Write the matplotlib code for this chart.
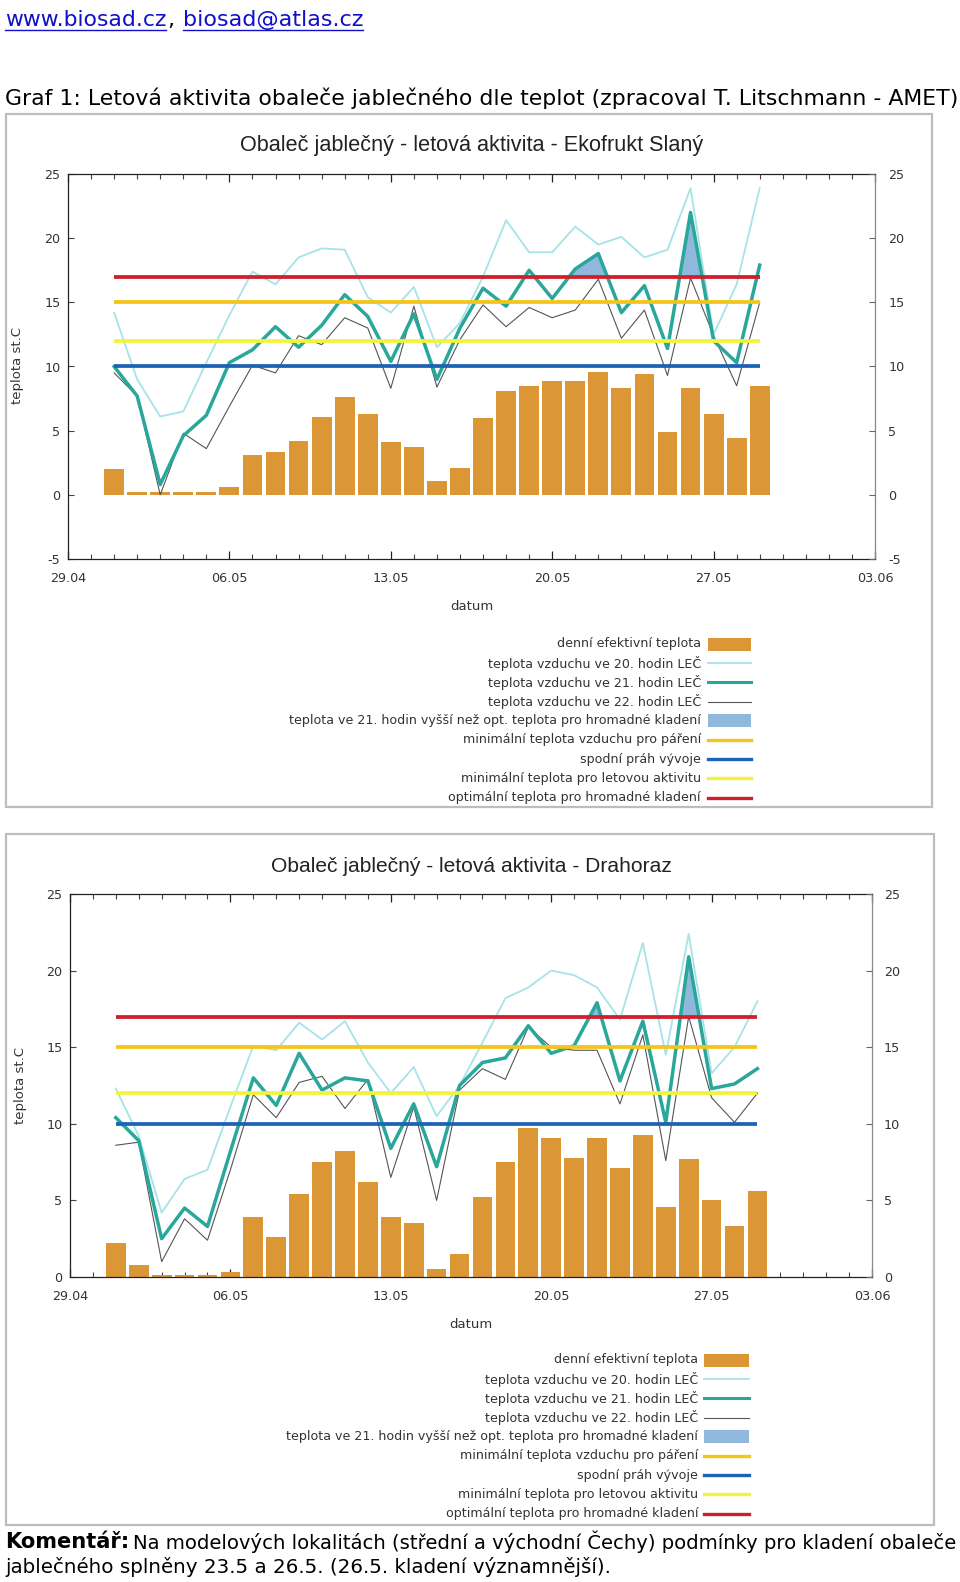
import matplotlib
matplotlib.use('Agg')
import matplotlib.pyplot as plt
import matplotlib.dates as mdates
from matplotlib.patches import Rectangle
from matplotlib.lines import Line2D
import numpy as np
import pandas as pd

plt.rcParams['axes.unicode_minus'] = False

# ---------------- data ----------------
dates = pd.date_range('2013-05-01', '2013-05-29', freq='D')
tick_dates = pd.to_datetime(['2013-04-29', '2013-05-06', '2013-05-13', '2013-05-20', '2013-05-27', '2013-06-03'])
tick_labels = ['29.04', '06.05', '13.05', '20.05', '27.05', '03.06']

# Ekofrukt Slaný
eff1 = [2.0, 0.2, 0.2, 0.2, 0.2, 0.6, 3.1, 3.3, 4.2, 6.1, 7.6, 6.3, 4.1, 3.7, 1.1, 2.1,
        6.0, 8.1, 8.5, 8.9, 8.9, 9.6, 8.3, 9.4, 4.9, 8.3, 6.3, 4.4, 8.5]
t20_1 = [14.2, 9.0, 6.1, 6.5, 10.3, 14.0, 17.4, 16.4, 18.5, 19.2, 19.1, 15.4, 14.2, 16.2, 11.5, 13.4,
         17.0, 21.4, 18.9, 18.9, 20.9, 19.5, 20.1, 18.5, 19.1, 23.9, 12.5, 16.4, 23.9]
t21_1 = [10.0, 7.7, 0.8, 4.6, 6.2, 10.3, 11.3, 13.1, 11.5, 13.2, 15.6, 13.9, 10.4, 14.1, 9.0, 13.0,
         16.1, 14.7, 17.5, 15.3, 17.6, 18.8, 14.2, 16.3, 11.4, 22.0, 12.0, 10.3, 17.9]
t22_1 = [9.5, 7.7, 0.0, 4.8, 3.6, 6.9, 10.1, 9.5, 12.4, 11.7, 13.8, 13.0, 8.3, 14.7, 8.4, 12.1,
         14.8, 13.1, 14.6, 13.8, 14.4, 16.8, 12.2, 14.4, 9.3, 16.9, 12.4, 8.5, 15.0]
flag1 = pd.to_datetime(['2013-05-21', '2013-05-22', '2013-05-26'])

# Drahoraz
eff2 = [2.2, 0.8, 0.1, 0.1, 0.1, 0.3, 3.9, 2.6, 5.4, 7.5, 8.2, 6.2, 3.9, 3.5, 0.5, 1.5,
        5.2, 7.5, 9.7, 9.1, 7.8, 9.1, 7.1, 9.3, 4.6, 7.7, 5.0, 3.3, 5.6]
t20_2 = [12.3, 9.2, 4.2, 6.4, 7.0, 11.1, 15.1, 14.8, 16.6, 15.5, 16.7, 14.0, 12.0, 13.7, 10.5, 12.5,
         15.3, 18.2, 18.9, 20.0, 19.7, 18.9, 16.8, 21.8, 14.5, 22.4, 13.3, 15.0, 18.0]
t21_2 = [10.4, 8.9, 2.5, 4.5, 3.3, 8.2, 13.0, 11.2, 14.6, 12.2, 13.0, 12.8, 8.4, 11.3, 7.2, 12.5,
         14.0, 14.3, 16.4, 14.6, 15.1, 17.9, 12.8, 16.7, 10.1, 20.9, 12.3, 12.6, 13.6]
t22_2 = [8.6, 8.8, 1.0, 3.8, 2.4, 7.0, 11.9, 10.4, 12.7, 13.1, 11.0, 12.9, 6.5, 11.1, 5.0, 12.2,
         13.6, 12.9, 16.3, 15.0, 14.8, 14.8, 11.3, 15.8, 7.6, 17.0, 11.7, 10.1, 12.0]
flag2 = pd.to_datetime(['2013-05-22', '2013-05-26'])

# thresholds
opt_lay = 17      # optimální teplota pro hromadné kladení
min_mate = 15     # minimální teplota vzduchu pro páření
min_flight = 12   # minimální teplota pro letovou aktivitu
dev_thr = 10      # spodní práh vývoje

legend_labels = ['denní efektivní teplota', 'teplota vzduchu ve 20. hodin LEČ',
                 'teplota vzduchu ve 21. hodin LEČ', 'teplota vzduchu ve 22. hodin LEČ',
                 'teplota ve 21. hodin vyšší než opt. teplota pro hromadné kladení',
                 'minimální teplota vzduchu pro páření', 'spodní práh vývoje',
                 'minimální teplota pro letovou aktivitu', 'optimální teplota pro hromadné kladení']

# ---------------- style ----------------
C_BAR = '#DB9636'
C_20 = '#A6E3E9'
C_21 = '#2AA79B'
C_22 = '#555555'
C_FILL = '#8FB8DC'
C_RED = '#CF1F2B'
C_ORANGE = '#F4C419'
C_YEL = '#F3F33A'
C_BLUE = '#1C62B5'

W, H = 960, 1582
fig = plt.figure(figsize=(W / 100, H / 100), dpi=100)
fig.patch.set_facecolor('white')
renderer = fig.canvas.get_renderer()


def fx(px):
    return px / W


def fy(py):
    return 1 - py / H


def fit_text(x, y, s, target_w, size0=12, **kw):
    t = fig.text(fx(x), fy(y), s, fontsize=size0, **kw)
    w = t.get_window_extent(renderer).width
    t.set_fontsize(size0 * target_w / w)
    return t


def fit_size(s, target_w, family='DejaVu Sans', size0=10):
    t = fig.text(0, 0, s, fontsize=size0, family=family)
    w = t.get_window_extent(renderer).width
    t.remove()
    return size0 * target_w / w


# ---------------- header ----------------
LINK = '#1010CC'
t1 = fit_text(5, 20, 'www.biosad.cz', 161, color=LINK, va='center', ha='left', family='DejaVu Sans')
fig.text(fx(167), fy(20), ',', color='black', va='center', ha='left', fontsize=t1.get_fontsize(), family='DejaVu Sans')
t2 = fit_text(183, 20, 'biosad@atlas.cz', 180, color=LINK, va='center', ha='left', family='DejaVu Sans')
for x0, x1 in [(5, 166), (183, 363)]:
    fig.add_artist(Line2D([fx(x0), fx(x1)], [fy(30), fy(30)], transform=fig.transFigure, color=LINK, lw=1.0))

fit_text(5, 98, 'Graf 1: Letová aktivita obaleče jablečného dle teplot (zpracoval T. Litschmann - AMET)',
         945, va='center', ha='left', family='DejaVu Sans', color='black')

# ---------------- panels ----------------
for (x0, y0, x1, y1) in [(6, 114, 932, 807), (6, 834, 934, 1525)]:
    fig.add_artist(Rectangle((fx(x0), fy(y1)), fx(x1 - x0), (y1 - y0) / H, transform=fig.transFigure,
                             fill=False, edgecolor='#BDBDBD', lw=1.6))

leg_size = fit_size(legend_labels[4], 410)


def draw_chart(box, ylim, eff, t20, t21, t22, flags, title, title_y, title_w, datum_y, ylab_xy,
               leg_y0, leg_xr, leg_h0, leg_h1, tick_pad_r):
    left, top, right, bottom = box
    ax = fig.add_axes([fx(left), fy(bottom), fx(right - left), (bottom - top) / H])
    x = mdates.date2num(dates)
    ax.bar(x, eff, width=0.86, color=C_BAR, zorder=2)
    ax.plot(x, t20, color=C_20, lw=1.3, zorder=3)
    ax.plot(x, t22, color=C_22, lw=0.8, zorder=3)
    # fill where 21h temperature is above optimum (flagged days)
    xd = np.linspace(x[0], x[-1], 4000)
    td = np.interp(xd, x, t21)
    fnum = mdates.date2num(flags)
    near = np.min(np.abs(xd[:, None] - fnum[None, :]), axis=1) < 1.0
    ax.fill_between(xd, td, opt_lay, where=(td > opt_lay) & near, color=C_FILL, lw=0, zorder=3.5)
    ax.plot(x, t21, color=C_21, lw=2.5, zorder=4)
    ax.hlines(opt_lay, x[0], x[-1], color=C_RED, lw=2.7, zorder=5)
    ax.hlines(min_mate, x[0], x[-1], color=C_ORANGE, lw=2.7, zorder=5)
    ax.hlines(min_flight, x[0], x[-1], color=C_YEL, lw=2.7, zorder=5)
    ax.hlines(dev_thr, x[0], x[-1], color=C_BLUE, lw=2.7, zorder=5)

    ax.set_xlim(mdates.date2num(tick_dates[0]), mdates.date2num(tick_dates[-1]))
    ax.set_ylim(*ylim)
    ax.set_yticks(range(ylim[0], ylim[1] + 1, 5))
    ax.set_xticks(mdates.date2num(tick_dates))
    ax.set_xticklabels(tick_labels)
    ax.xaxis.set_minor_locator(mdates.DayLocator())
    ax.tick_params(axis='x', which='major', direction='in', length=6, width=0.9, top=True, bottom=True,
                   labelsize=9.2, pad=9, colors='#222', labelcolor='#333')
    ax.tick_params(axis='x', which='minor', direction='in', length=3.8, width=0.8, top=True, bottom=True,
                   colors='#444')
    ax.tick_params(axis='y', direction='in', length=4.5, width=0.8, left=True, right=False,
                   labelsize=9.2, pad=5.5, colors='#444', labelcolor='#333')
    for s in ['left', 'top', 'bottom']:
        ax.spines[s].set_color('#222')
        ax.spines[s].set_linewidth(0.9)
    ax.spines['right'].set_color('#888')
    ax.spines['right'].set_linewidth(0.9)
    ax2 = ax.twinx()
    ax2.set_ylim(*ylim)
    ax2.set_yticks(range(ylim[0], ylim[1] + 1, 5))
    ax2.tick_params(axis='y', direction='in', length=4.5, width=0.8, right=True,
                    labelsize=9.2, pad=tick_pad_r, colors='#666', labelcolor='#333')
    for s in ax2.spines.values():
        s.set_visible(False)

    cx = (left + right) / 2
    fit_text(cx, title_y, title, title_w, va='center', ha='center', family='Liberation Sans', color='#222')
    fig.text(fx(cx), fy(datum_y), 'datum', ha='center', va='center', fontsize=9.5, color='#333',
             family='DejaVu Sans')
    fig.text(fx(ylab_xy[0]), fy(ylab_xy[1]), 'teplota st.C', ha='center', va='center', rotation=90,
             fontsize=9.5, color='#333', family='DejaVu Sans')

    # legend
    styles = [('bar', C_BAR, 0), ('line', C_20, 1.3), ('line', C_21, 2.2), ('line', C_22, 0.8),
              ('bar', C_FILL, 0), ('line', C_ORANGE, 2.4), ('line', C_BLUE, 2.4), ('line', C_YEL, 2.4),
              ('line', C_RED, 2.4)]
    for i, (lab, (kind, col, lw)) in enumerate(zip(legend_labels, styles)):
        yy = leg_y0 + 19.2 * i
        fig.text(fx(leg_xr), fy(yy), lab, ha='right', va='center', fontsize=leg_size, color='#333',
                 family='DejaVu Sans')
        if kind == 'bar':
            fig.add_artist(Rectangle((fx(leg_h0), fy(yy + 6.5)), fx(leg_h1 - leg_h0), 13 / H,
                                     transform=fig.transFigure, color=col, lw=0))
        else:
            fig.add_artist(Line2D([fx(leg_h0), fx(leg_h1)], [fy(yy), fy(yy)], transform=fig.transFigure,
                                  color=col, lw=lw))
    return ax


draw_chart((68, 174, 875, 559), (-5, 25), eff1, t20_1, t21_1, t22_1, flag1,
           'Obaleč jablečný - letová aktivita - Ekofrukt Slaný', 145, 463, 607, (18, 366),
           644, 701, 708, 751, 9.5)
draw_chart((70, 894, 872, 1277), (0, 25), eff2, t20_2, t21_2, t22_2, flag2,
           'Obaleč jablečný - letová aktivita - Drahoraz', 866, 402, 1325, (21, 1086),
           1360, 698, 704, 749, 8.5)

# ---------------- comment ----------------
tb = fit_text(5, 1542, 'Komentář:', 124, va='center', ha='left', family='DejaVu Sans', fontweight='bold',
              color='black')
fit_text(133, 1542, 'Na modelových lokalitách (střední a východní Čechy) podmínky pro kladení obaleče',
         824, va='center', ha='left', family='DejaVu Sans', color='black')
fit_text(5, 1567, 'jablečného splněny 23.5 a 26.5. (26.5. kladení významnější).', 602,
         va='center', ha='left', family='DejaVu Sans', color='black')

fig.savefig('out.png', dpi=100, facecolor='white')
